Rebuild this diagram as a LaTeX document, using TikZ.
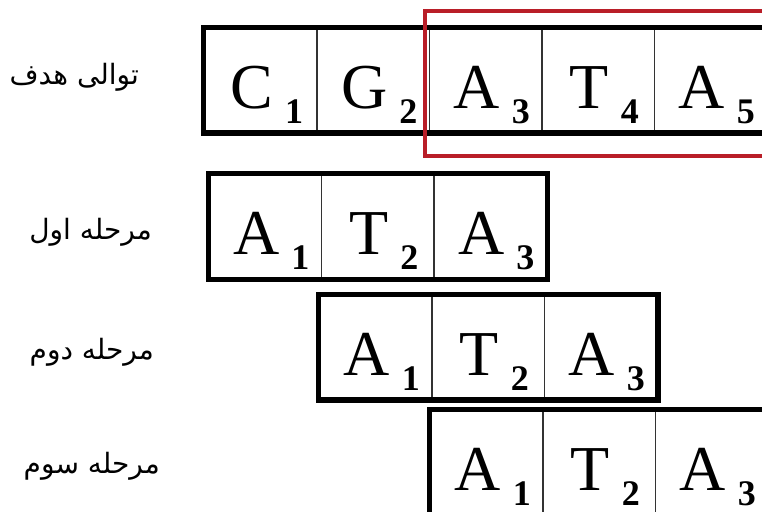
\documentclass[tikz,border=0pt]{standalone}
\usepackage{fontspec}
\setmainfont{Liberation Serif}
\newfontfamily\farsi[Script=Arabic]{DejaVu Sans}
\TeXXeTstate=1
\usetikzlibrary{calc}
\definecolor{boxred}{RGB}{185,30,40}

\newcommand{\nuc}[2]{{\fontsize{32}{34}\selectfont #1}\kern6pt\raisebox{-7.5pt}{\fontsize{18}{19}\selectfont\bfseries #2}}
\newcommand{\fa}[1]{{\farsi\beginR #1\endR}}

\begin{document}
\begin{tikzpicture}[x=0.5pt,y=-0.5pt,
  cell/.style={draw=black!80,line width=0.9pt,minimum width=56.25pt,minimum height=52pt,
    inner sep=0pt,text height=28pt,text depth=0pt},
  frame/.style={line width=2.6pt},
  stage/.style={anchor=east,font=\fontsize{14}{17}\selectfont}]
  \useasboundingbox (0,0) rectangle (762,511);
  \clip (0,0) rectangle (762,511);

  % target sequence and the three steps
  \foreach \b/\s [count=\i] in {C/1,G/2,A/3,T/4,A/5}
    \node[cell] (t\i) at ({204.5+112.5*\i-56.25},80) {\hspace*{6pt}\nuc{\b}{\s}};
  \foreach \r/\x/\y in {a/209/226.5,b/319.5/347,c/430.5/462}
    \foreach \b/\s [count=\i] in {A/1,T/2,A/3}
      \node[cell] (\r\i) at ({\x+112.5*\i-56.25},\y) {\hspace*{6pt}\nuc{\b}{\s}};

  \foreach \r/\n in {t/5,a/3,b/3,c/3}
    \draw[frame] (\r1.north west) rectangle (\r\n.south east);

  % match window
  \draw[boxred,line width=2pt] ($(t3.north west)+(-4,-16)$) rectangle ($(t5.south east)+(20,23.5)$);

  \node[stage] (l0) at (146,77) {\fa{توالی هدف}};
  \node[stage] (l1) at (159,232) {\fa{مرحله اول}};
  \node[stage] (l2) at (161,352) {\fa{مرحله دوم}};
  \node[stage] (l3) at (167,466) {\fa{مرحله سوم}};
\end{tikzpicture}
\end{document}
